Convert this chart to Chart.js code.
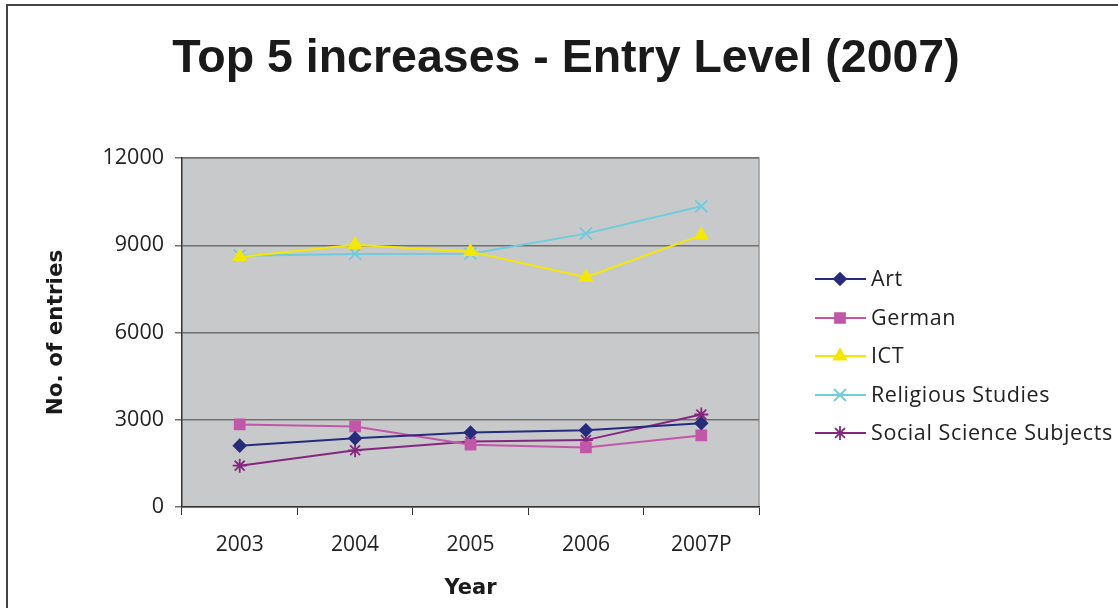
<!DOCTYPE html>
<html>
<head>
<meta charset="utf-8">
<title>Top 5 increases - Entry Level (2007)</title>
<script src="https://cdn.jsdelivr.net/npm/chart.js@4.4.1/dist/chart.umd.min.js"></script>
<style>
  html, body { margin: 0; padding: 0; background: #fff; }
  #wrap { position: relative; width: 1118px; height: 608px; }
</style>
</head>
<body>
<div id="wrap"><canvas id="chart" width="1118" height="608"></canvas></div>
<script>
// Chart data
const years = ['2003', '2004', '2005', '2006', '2007P'];
const artValues = [2110, 2360, 2560, 2640, 2880];
const germanValues = [2840, 2770, 2140, 2050, 2460];
const ictValues = [8600, 9020, 8780, 7900, 9350];
const religiousValues = [8640, 8700, 8710, 9400, 10340];
const socialValues = [1420, 1950, 2250, 2300, 3180];
const yTicks = [0, 3000, 6000, 9000, 12000];

const TITLE = 'Top 5 increases - Entry Level (2007)';
const TICK_FONT = '"Open Sans", Lato, sans-serif';
const TITLE_FONT = '"Liberation Sans", Arial, sans-serif';
const AXIS_TITLE_FONT = '"DejaVu Sans", Verdana, sans-serif';

function series(label, data, color, pointStyle, radius) {
  return {
    label,
    data,
    borderColor: color,
    backgroundColor: color,
    pointBackgroundColor: color,
    pointBorderColor: color,
    pointStyle,
    pointRadius: radius,
    pointHoverRadius: radius,
    pointBorderWidth: 1.8,
    borderWidth: 2,
    tension: 0
  };
}

// Plot background, outer frame, title and line+marker legend
const decorations = {
  id: 'decorations',
  beforeDraw(chart) {
    const { ctx, chartArea: a } = chart;
    ctx.save();
    ctx.fillStyle = '#fff';
    ctx.fillRect(0, 0, chart.width, chart.height);
    ctx.fillStyle = '#C8C9CB';
    ctx.fillRect(a.left, a.top, a.right - a.left, a.bottom - a.top);
    ctx.strokeStyle = '#999';
    ctx.lineWidth = 1.5;
    ctx.beginPath();
    ctx.moveTo(a.left, a.top);
    ctx.lineTo(a.right, a.top);
    ctx.lineTo(a.right, a.bottom);
    ctx.stroke();
    // outer chart frame
    ctx.strokeStyle = '#444';
    ctx.lineWidth = 2;
    ctx.beginPath();
    ctx.moveTo(7, chart.height);
    ctx.lineTo(7, 5);
    ctx.lineTo(chart.width, 5);
    ctx.stroke();
    ctx.restore();
  },
  afterDraw(chart) {
    const { ctx } = chart;
    ctx.save();
    ctx.fillStyle = '#1a1a1a';
    ctx.font = 'bold 46.5px ' + TITLE_FONT;
    ctx.textAlign = 'center';
    ctx.textBaseline = 'alphabetic';
    ctx.fillText(TITLE, 566, 72);

    const rows = [279, 318, 356, 395, 433];
    chart.data.datasets.forEach((ds, i) => {
      const y = rows[i];
      ctx.strokeStyle = ds.borderColor;
      ctx.lineWidth = 2;
      ctx.beginPath();
      ctx.moveTo(815, y);
      ctx.lineTo(866, y);
      ctx.stroke();
      ctx.fillStyle = ds.backgroundColor;
      ctx.lineWidth = ds.pointBorderWidth;
      Chart.helpers.drawPoint(ctx, {
        pointStyle: ds.pointStyle,
        radius: ds.pointRadius,
        rotation: 0,
        borderWidth: ds.pointBorderWidth
      }, 840, y);
      ctx.fillStyle = '#222';
      ctx.font = '21.5px ' + TICK_FONT;
      ctx.letterSpacing = '0.6px';
      ctx.textAlign = 'left';
      ctx.textBaseline = 'middle';
      ctx.fillText(ds.label, 871, y + 1);
      ctx.letterSpacing = '0px';
    });
    ctx.restore();
  }
};

new Chart(document.getElementById('chart').getContext('2d'), {
  type: 'line',
  data: {
    labels: years,
    datasets: [
      series('Art', artValues, '#272B7C', 'rectRot', 6),
      series('German', germanValues, '#C257A8', 'rect', 7),
      series('ICT', ictValues, '#F4E800', 'triangle', 7),
      series('Religious Studies', religiousValues, '#6FCCDD', 'crossRot', 8.5),
      series('Social Science Subjects', socialValues, '#84277F', 'star', 7)
    ]
  },
  options: {
    responsive: false,
    animation: false,
    layout: { padding: { top: 158, right: 359, left: 0, bottom: 0 } },
    plugins: {
      legend: { display: false },
      title: { display: false },
      tooltip: { enabled: false }
    },
    scales: {
      x: {
        offset: true,
        afterFit: (s) => { s.height = 101; },
        grid: { offset: true, drawOnChartArea: false, tickLength: 8, color: '#333' },
        border: { color: '#333', width: 1.5 },
        ticks: { color: '#222', font: { family: TICK_FONT, size: 21 }, padding: 17 },
        title: {
          display: true, text: 'Year', color: '#1a1a1a',
          font: { family: AXIS_TITLE_FONT, size: 21, weight: 'bold' },
          padding: { top: 0, bottom: 7 }
        }
      },
      y: {
        min: 0,
        max: 12000,
        afterFit: (s) => { s.width = 182; },
        afterBuildTicks: (s) => { s.ticks = yTicks.map(v => ({ value: v })); },
        grid: { color: '#707070', lineWidth: 1.5, tickLength: 7 },
        border: { color: '#333', width: 1.5 },
        ticks: {
          color: '#222',
          font: { family: TICK_FONT, size: 21.5 },
          padding: 11,
          callback: (v) => String(v)
        },
        title: {
          display: true, text: 'No. of entries', color: '#1a1a1a',
          font: { family: AXIS_TITLE_FONT, size: 21.5, weight: 'bold' },
          padding: { top: 44, bottom: 0 }
        }
      }
    }
  },
  plugins: [decorations]
});
</script>
</body>
</html>
